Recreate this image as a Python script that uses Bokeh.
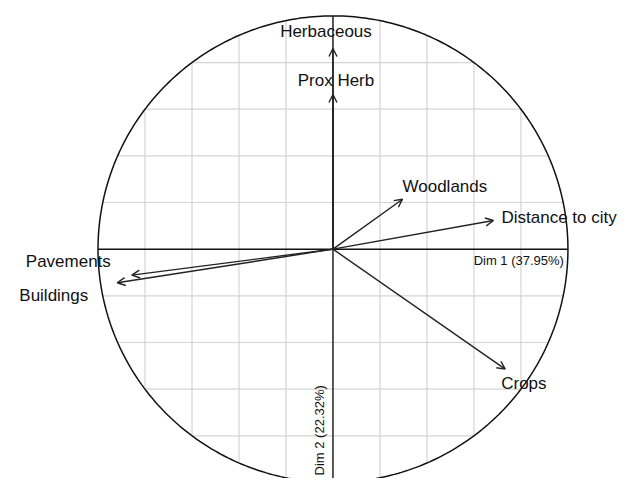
import numpy as np
from bokeh.plotting import figure
from bokeh.models import ColumnDataSource, Arrow, OpenHead, Range1d
from bokeh.core.properties import value
from bokeh.embed import file_html
from bokeh.resources import INLINE

# ---- data ----
variables = ["Herbaceous", "Prox Herb", "Woodlands", "Distance to city", "Crops", "Pavements", "Buildings"]
dim1 = [0.0, 0.0, 0.296, 0.683, 0.733, -0.856, -0.918]
dim2 = [0.86, 0.663, 0.214, 0.123, -0.514, -0.111, -0.144]
dim1_label = "Dim 1 (37.95%)"
dim2_label = "Dim 2 (22.32%)"
grid_ticks = [-0.8, -0.6, -0.4, -0.2, 0.2, 0.4, 0.6, 0.8]

# label placement (screen px offsets, alignment)
label_dx = [-7, 3, 0, 8, -4, -21, -29]
label_dy = [-17, -14, -13, -3, 14, -14, 13]
label_align = ["center", "center", "left", "left", "left", "right", "right"]

FONT = "Liberation Sans"

p = figure(width=625, height=478, output_backend="svg", toolbar_location=None,
           x_range=Range1d(-1.415, 1.245), y_range=Range1d(-0.983, 1.066),
           x_axis_location=None, y_axis_location=None, min_border=0)
p.outline_line_color = None
p.xgrid.visible = False
p.ygrid.visible = False
p.background_fill_color = "white"

# grid clipped to unit circle
gx0, gx1, gy0, gy1 = [], [], [], []
for g in grid_ticks:
    h = float(np.sqrt(1 - g * g))
    gx0.append(g); gx1.append(g); gy0.append(-h); gy1.append(h)
p.segment(x0=gx0, y0=gy0, x1=gx1, y1=gy1, line_color="#d4d4d4", line_width=1.2)
p.segment(x0=gy0, y0=gx0, x1=gy1, y1=gx1, line_color="#d4d4d4", line_width=1.2)

# axes lines
p.segment(x0=[-1, 0], y0=[0, -1], x1=[1, 0], y1=[0, 1], line_color="#111111", line_width=1.4)

# circle
t = np.linspace(0, 2 * np.pi, 400)
p.line(np.cos(t), np.sin(t), line_color="#111111", line_width=1.5)

# arrows
src = ColumnDataSource(dict(x0=[0.0] * len(dim1), y0=[0.0] * len(dim1), x1=dim1, y1=dim2))
p.add_layout(Arrow(source=src, x_start="x0", y_start="y0", x_end="x1", y_end="y1",
                   line_color="#222222", line_width=1.4,
                   end=OpenHead(size=8, line_color="#222222", line_width=1.4)))

# labels
for i, name in enumerate(variables):
    p.text(x=[dim1[i]], y=[dim2[i]], text=[name], x_offset=label_dx[i], y_offset=label_dy[i],
           text_align=label_align[i], text_baseline="middle",
           text_font=value(FONT), text_font_size="17px", text_color="#111111")

# dimension labels
p.text(x=[1], y=[0], text=[dim1_label], x_offset=-4, y_offset=4,
       text_align="right", text_baseline="top",
       text_font=value(FONT), text_font_size="13px", text_color="#111111")
p.text(x=[0], y=[-1], text=[dim2_label], x_offset=-13, y_offset=-7, angle=np.pi / 2,
       text_align="left", text_baseline="middle",
       text_font=value(FONT), text_font_size="13px", text_color="#111111")

open("out.html", "w").write(file_html(p, INLINE))
